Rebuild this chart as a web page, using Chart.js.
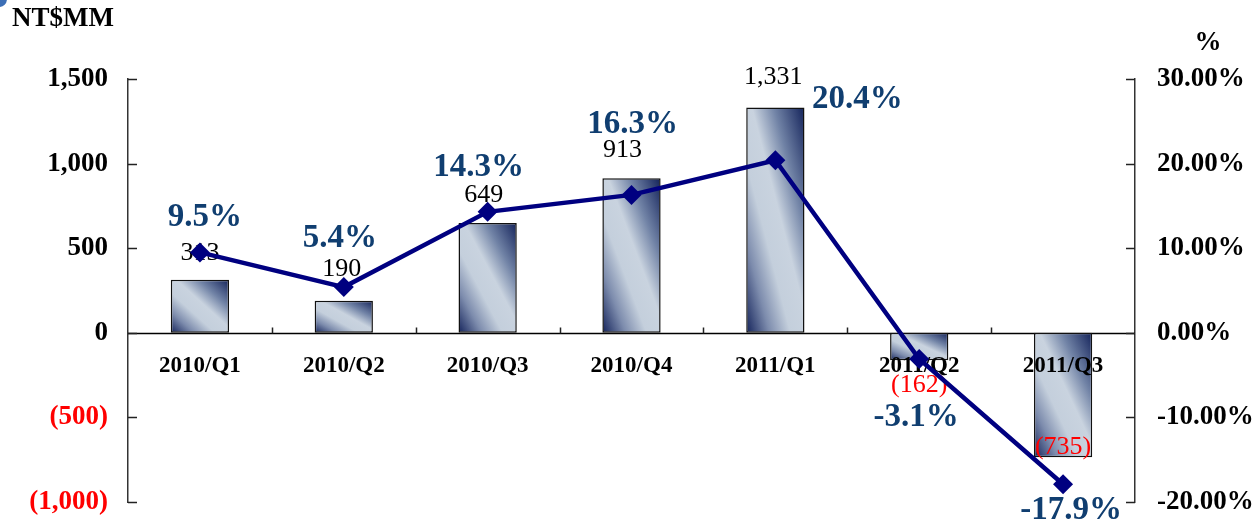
<!DOCTYPE html>
<html>
<head>
<meta charset="utf-8">
<script src="https://cdn.jsdelivr.net/npm/chart.js@4"></script>
<style>
   html, body { margin: 0; padding: 0; background: #fff; }
   #wrap { position: relative; width: 1257px; height: 523px; overflow: hidden; }
   #dot { position: absolute; left: -9px; top: -9px; width: 16px; height: 16px; border-radius: 50%; background: #3d6fb6; }
</style>
</head>
<body>
<div id="wrap">
   <canvas id="chart" width="1257" height="523"></canvas>
   <div id="dot"></div>
</div>
<script>
const quarters = ["2010/Q1", "2010/Q2", "2010/Q3", "2010/Q4", "2011/Q1", "2011/Q2", "2011/Q3"]
const profit = [313, 190, 649, 913, 1331, -162, -735]
const margin = [9.5, 5.4, 14.3, 16.3, 20.4, -3.1, -17.9]
const leftTicks = [-1000, -500, 0, 500, 1000, 1500]
const rightTicks = [-20, -10, 0, 10, 20, 30]

// label offsets (px) from the bar end / marker
const barLabelShift = [[0, -27], [-2, -31], [-4, -28], [-9, -28], [-2, -30], [0, 25], [0, -10]]
const pctLabelShift = [[5, -35], [-4, -49], [-9, -44], [1, -70], [82, -61], [-3, 58], [8, 26]]

const serif = "'Liberation Serif', 'Times New Roman', serif"
const navy = "#000080"
const pctColor = "#103e70"
const barPct = 0.405

function formatMoney(v) {
   const s = Math.abs(v).toLocaleString("en-US")
   return v < 0 ? "(" + s + ")" : s
}

// tick padding otherwise gets added to the top/bottom gap too
function fitSide(width) {
   return s => {
      s.width = width
      s.paddingTop = 0
      s.paddingBottom = 0
   }
}

function barFill(ctx) {
   const chart = ctx.chart
   if (!chart.chartArea || ctx.type !== "data") return "#c9d4e0"
   const xs = chart.scales.x
   const ys = chart.scales.y
   const v = ctx.raw
   const cx = xs.getPixelForValue(ctx.dataIndex)
   const w = xs.width / quarters.length * barPct
   const top = ys.getPixelForValue(Math.max(v, 0))
   const bottom = ys.getPixelForValue(Math.min(v, 0))
   const H = Math.max(bottom - top, 1)
   const left = cx - w / 2
   const k = 2 * w * H / (H * H + w * w)
   const g = chart.ctx.createLinearGradient(left, bottom, left + H * k, bottom - w * k)
   g.addColorStop(0, "#13225a")
   g.addColorStop(0.2, "#7d8cad")
   g.addColorStop(0.38, "#c4cfdc")
   g.addColorStop(0.55, "#c9d3df")
   g.addColorStop(0.74, "#7183a6")
   g.addColorStop(1, "#13225a")
   return g
}

const decor = {
   id: "decor",
   beforeDatasetsDraw(chart) {
      const c = chart.ctx
      const ys = chart.scales.y
      const y2 = chart.scales.y2
      const xs = chart.scales.x
      const area = chart.chartArea
      const y0 = Math.round(ys.getPixelForValue(0)) + 0.5
      c.save()
      // zero line doubles as the category axis
      c.strokeStyle = "#000"
      c.lineWidth = 1.5
      c.beginPath()
      c.moveTo(area.left, y0)
      c.lineTo(area.right, y0)
      c.stroke()

      c.strokeStyle = "#222"
      c.beginPath()
      leftTicks.forEach(t => {
         const y = Math.round(ys.getPixelForValue(t)) + 0.5
         c.moveTo(area.left, y)
         c.lineTo(area.left + 9, y)
      })
      rightTicks.forEach(t => {
         const y = Math.round(y2.getPixelForValue(t)) + 0.5
         c.moveTo(area.right - 9, y)
         c.lineTo(area.right, y)
      })
      const step = xs.width / quarters.length
      for (let i = 1; i < quarters.length; i++) {
         const x = Math.round(area.left + step * i) + 0.5
         c.moveTo(x, y0 - 6)
         c.lineTo(x, y0)
      }
      c.stroke()

      c.fillStyle = "#000"
      c.font = "bold 27px " + serif
      c.textBaseline = "middle"
      c.textAlign = "left"
      c.fillText("NT$MM", 12, 19)
      c.textAlign = "center"
      c.fillText("%", 1208, 43)
      c.restore()
   },
   afterDatasetDraw(chart, args) {
      const c = chart.ctx
      c.save()
      c.textBaseline = "middle"
      c.textAlign = "center"
      if (args.index === 0) {
         const meta = chart.getDatasetMeta(0)
         const ys = chart.scales.y
         const y0 = ys.getPixelForValue(0)
         // category names sit over the bars, under the line
         c.fillStyle = "#000"
         c.font = "bold 23px " + serif
         meta.data.forEach((bar, i) => {
            c.fillText(quarters[i], bar.x, y0 + 33)
         })
         c.font = "26px " + serif
         meta.data.forEach((bar, i) => {
            const v = profit[i]
            c.fillStyle = v < 0 ? "#ff0000" : "#000"
            c.fillText(formatMoney(v), bar.x + barLabelShift[i][0], bar.y + barLabelShift[i][1])
         })
      } else {
         const meta = chart.getDatasetMeta(1)
         c.fillStyle = pctColor
         c.font = "bold 33px " + serif
         meta.data.forEach((pt, i) => {
            c.fillText(margin[i].toFixed(1) + "%", pt.x + pctLabelShift[i][0], pt.y + pctLabelShift[i][1])
         })
      }
      c.restore()
   }
}

new Chart(document.getElementById("chart"), {
   data: {
      labels: quarters,
      datasets: [
         {
            type: "bar",
            data: profit,
            yAxisID: "y",
            order: 2,
            backgroundColor: barFill,
            borderColor: "#111",
            borderWidth: 1.5,
            borderSkipped: false,
            barPercentage: barPct,
            categoryPercentage: 1
         },
         {
            type: "line",
            data: margin,
            yAxisID: "y2",
            order: 1,
            borderColor: navy,
            borderWidth: 4.5,
            backgroundColor: navy,
            pointStyle: "rectRot",
            pointRadius: 10,
            pointBorderWidth: 0,
            pointBackgroundColor: navy,
            tension: 0,
            fill: false
         }
      ]
   },
   options: {
      responsive: false,
      animation: false,
      layout: { padding: { top: 79, bottom: 21, left: 0, right: 0 } },
      plugins: {
         legend: { display: false },
         tooltip: { enabled: false }
      },
      scales: {
         x: {
            display: false
         },
         y: {
            position: "left",
            min: -1000,
            max: 1500,
            afterBuildTicks: s => { s.ticks = leftTicks.map(v => ({ value: v })) },
            afterFit: fitSide(128),
            grid: { display: false, drawTicks: false, tickLength: 0 },
            border: { display: true, color: "#333", width: 1.5 },
            ticks: {
               padding: 20,
               color: c => c.tick && c.tick.value < 0 ? "#ff0000" : "#000",
               font: { family: serif, size: 27, weight: "bold" },
               callback: v => formatMoney(v)
            }
         },
         y2: {
            position: "right",
            min: -20,
            max: 30,
            afterBuildTicks: s => { s.ticks = rightTicks.map(v => ({ value: v })) },
            afterFit: fitSide(122),
            grid: { display: false, drawTicks: false, tickLength: 0 },
            border: { display: true, color: "#333", width: 1.5 },
            ticks: {
               padding: 22,
               color: "#000",
               font: { family: serif, size: 27, weight: "bold" },
               callback: v => v.toFixed(2) + "%"
            }
         }
      }
   },
   plugins: [decor]
})
</script>
</body>
</html>
